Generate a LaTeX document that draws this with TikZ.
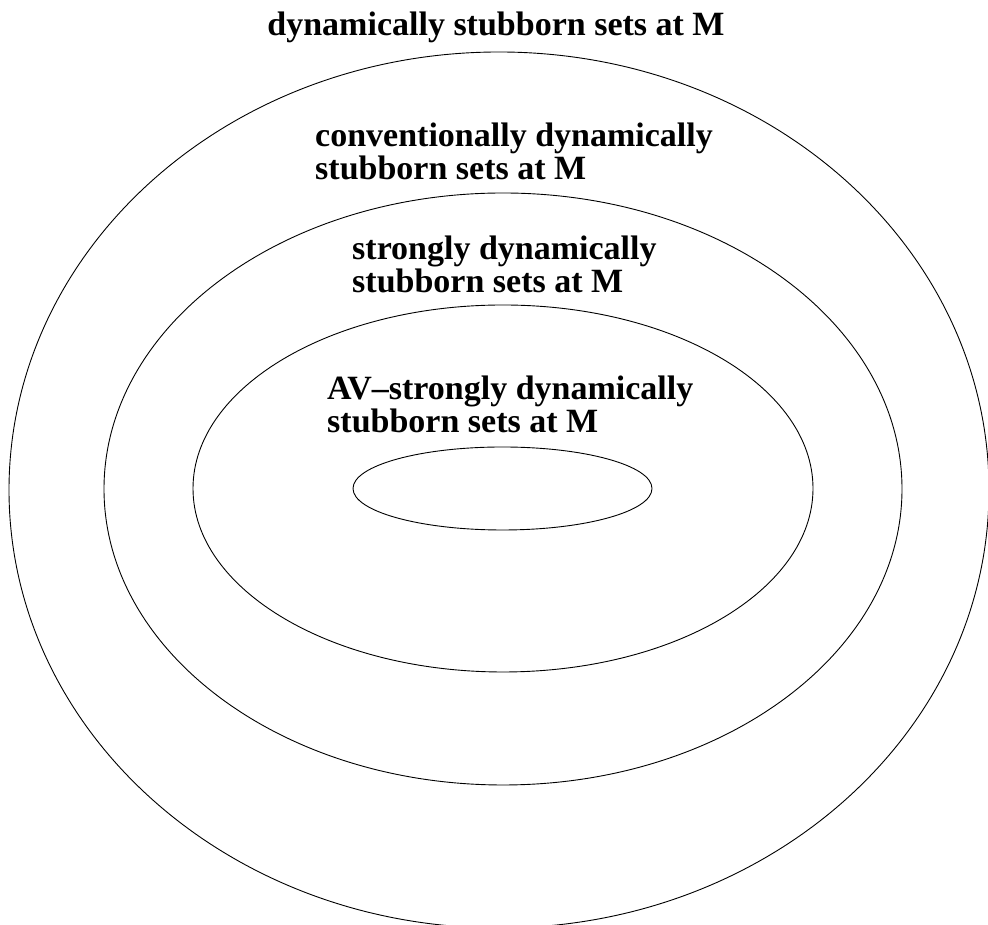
\documentclass[tikz,border=0pt]{standalone}
\usepackage{fontspec}
\setmainfont{Liberation Serif}
\usepackage{tikz}
\usetikzlibrary{shapes.geometric}
\tikzset{
  setline/.style={ellipse, draw=black, line width=0.9pt, inner sep=0pt},
  setlabel/.style={inner sep=0pt, align=left, anchor=base west,
    font=\fontsize{34}{33}\selectfont\bfseries}
}
\begin{document}
\begin{tikzpicture}[x=1pt, y=1pt]
  \useasboundingbox (0,0) rectangle (988,925);
  \node[setline, minimum width=980pt, minimum height=876pt] (dyn) at (499,435) {};
  \node[setline, minimum width=798pt, minimum height=592pt] (conv) at (503,436) {};
  \node[setline, minimum width=620pt, minimum height=367pt] (strong) at (503,436.5) {};
  \node[setline, minimum width=299pt, minimum height=83pt] (avstrong) at (502.5,436.5) {};

  % labels: base of the last line
  \node[setlabel, anchor=base] (dynlabel) at (496,889) {dynamically stubborn sets at M};
  \node[setlabel] (convlabel) at (315,745) {conventionally dynamically\\stubborn sets at M};
  \node[setlabel] (stronglabel) at (352,632) {strongly dynamically\\stubborn sets at M};
  \node[setlabel] (avlabel) at (327,492) {AV–strongly dynamically\\stubborn sets at M};
\end{tikzpicture}
\end{document}
